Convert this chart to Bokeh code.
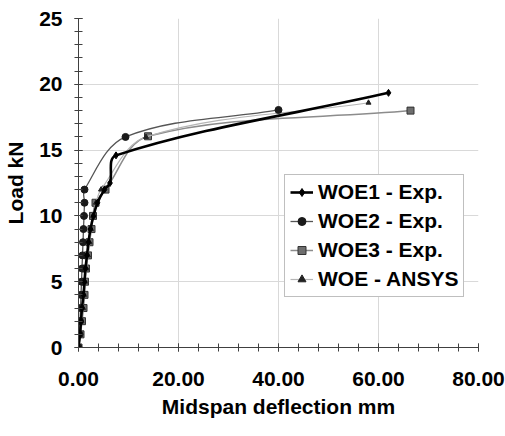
import numpy as np
from bokeh.plotting import figure
from bokeh.models import Range1d, FixedTicker, Legend, LegendItem, ColumnDataSource
from bokeh.embed import file_html
from bokeh.resources import INLINE

# Data (deflection mm, load kN)
woe1_x = [0, 0.3, 0.5, 0.7, 1.0, 1.2, 1.4, 1.7, 2.0, 2.4, 3.0, 3.8, 5.2, 6.3, 7.5, 62.0]
woe1_y = [0, 1, 2, 3, 4, 5, 6, 7, 8, 9, 10, 11, 12, 12.5, 14.6, 19.35]

woe2_x = [0, 0.2, 0.3, 0.4, 0.5, 0.6, 0.7, 0.8, 0.9, 1.0, 1.1, 1.2, 1.2, 9.4, 40.0]
woe2_y = [0, 1, 2, 3, 4, 5, 6, 7, 8, 9, 10, 11, 12, 16.0, 18.05]

woe3_x = [0, 0.4, 0.7, 1.0, 1.2, 1.3, 1.5, 1.9, 2.2, 2.6, 2.9, 3.4, 5.4, 13.9, 66.4]
woe3_y = [0, 1, 2, 3, 4, 5, 6, 7, 8, 9, 10, 11, 12, 16.05, 18.0]

ansys_x = [0, 0.3, 0.6, 0.9, 1.1, 1.3, 1.6, 1.9, 2.2, 2.5, 2.9, 3.5, 4.5, 13.5, 58.0]
ansys_y = [0, 1, 2, 3, 4, 5, 6, 7, 8, 9, 10, 11, 12, 16.0, 18.6]

x_ticks = [0, 20, 40, 60, 80]
y_ticks = [0, 5, 10, 15, 20, 25]
x_labels = {0: "0.00", 20: "20.00", 40: "40.00", 60: "60.00", 80: "80.00"}

FONT = "Liberation Sans"
FS = "21px"

# screen pixels per data unit (frame 400 px for 80 mm, 328 px for 25 kN),
# used only to shape the smoothed line like a spreadsheet "smoothed line"
SX, SY = 400 / 80, 328 / 25


def smooth_segments(xs, ys, t=0.33):
    x = np.asarray(xs, float) * SX
    y = np.asarray(ys, float) * SY
    n = len(x)
    dx = np.empty(n)
    dy = np.empty(n)
    for i in range(n):
        a = max(i - 1, 0)
        b = min(i + 1, n - 1)
        vx, vy = x[b] - x[a], y[b] - y[a]
        L = np.hypot(vx, vy) or 1.0
        dx[i], dy[i] = vx / L, vy / L
    seg = np.hypot(np.diff(x), np.diff(y))
    cx0 = x[:-1] + dx[:-1] * seg * t
    cy0 = y[:-1] + dy[:-1] * seg * t
    cx1 = x[1:] - dx[1:] * seg * t
    cy1 = y[1:] - dy[1:] * seg * t
    return ColumnDataSource(dict(x0=x[:-1] / SX, y0=y[:-1] / SY, x1=x[1:] / SX, y1=y[1:] / SY,
                                 cx0=cx0 / SX, cy0=cy0 / SY, cx1=cx1 / SX, cy1=cy1 / SY))


p = figure(width=505, height=436, output_backend="svg", toolbar_location=None,
           x_range=Range1d(0, 80), y_range=Range1d(0, 25),
           min_border_left=78, min_border_right=27, min_border_top=18, min_border_bottom=89)
p.outline_line_color = None
p.background_fill_color = "white"
p.border_fill_color = "white"

# grids
p.xgrid.ticker = FixedTicker(ticks=x_ticks)
p.ygrid.ticker = FixedTicker(ticks=y_ticks)
p.xgrid.grid_line_color = "#d9d9d9"
p.ygrid.grid_line_color = "#d9d9d9"

# axes
p.xaxis.ticker = FixedTicker(ticks=x_ticks, minor_ticks=[i * 4 for i in range(21)])
p.yaxis.ticker = FixedTicker(ticks=y_ticks, minor_ticks=list(range(26)))
p.xaxis.major_label_overrides = {k: v for k, v in x_labels.items()}
for ax in (p.xaxis[0], p.yaxis[0]):
    ax.axis_line_color = "#404040"
    ax.major_tick_line_color = "#404040"
    ax.minor_tick_line_color = "#404040"
    ax.major_tick_in = 4
    ax.major_tick_out = 4
    ax.minor_tick_in = 4
    ax.minor_tick_out = 4
    ax.major_label_text_font = FONT
    ax.major_label_text_font_style = "bold"
    ax.major_label_text_font_size = FS
    ax.major_label_text_color = "black"
    ax.axis_label_text_font = FONT
    ax.axis_label_text_font_style = "bold"
    ax.axis_label_text_font_size = FS
    ax.axis_label_text_color = "black"
p.xaxis.axis_label = "Midspan deflection mm"
p.yaxis.axis_label = "Load kN"
p.xaxis.major_label_standoff = 20
p.xaxis.axis_label_standoff = 6
p.yaxis.major_label_standoff = 12
p.yaxis.axis_label_standoff = 9

s1 = ColumnDataSource(dict(x=woe1_x, y=woe1_y))
s2 = ColumnDataSource(dict(x=woe2_x, y=woe2_y))
s3 = ColumnDataSource(dict(x=woe3_x, y=woe3_y))
s4 = ColumnDataSource(dict(x=ansys_x, y=ansys_y))

bz = dict(x0="x0", y0="y0", x1="x1", y1="y1", cx0="cx0", cy0="cy0", cx1="cx1", cy1="cy1")

# WOE3
l3 = p.bezier(source=smooth_segments(woe3_x, woe3_y), line_color="#8c8c8c", line_width=1.5, **bz)
m3 = p.scatter("x", "y", source=s3, marker="square", size=7, fill_color="#6e6e6e", line_color="#333333")
# WOE - ANSYS
l4 = p.bezier(source=smooth_segments(ansys_x, ansys_y), line_color="#b5b5b5", line_width=1.2, **bz)
m4 = p.scatter("x", "y", source=s4, marker="triangle", size=5, fill_color="#222222", line_color="#222222")
# WOE2
l2 = p.bezier(source=smooth_segments(woe2_x, woe2_y), line_color="#555555", line_width=1.3, **bz)
m2 = p.scatter("x", "y", source=s2, marker="circle", size=7, fill_color="#1a1a1a", line_color="#1a1a1a")
# WOE1
l1 = p.bezier(source=smooth_segments(woe1_x, woe1_y), line_color="black", line_width=2.6, **bz)
m1 = p.scatter("x", "y", source=s1, marker="diamond", size=7, fill_color="black", line_color="black")

legend = Legend(items=[
    LegendItem(label="WOE1 - Exp.", renderers=[l1, m1]),
    LegendItem(label="WOE2 - Exp.", renderers=[l2, m2]),
    LegendItem(label="WOE3 - Exp.", renderers=[l3, m3]),
    LegendItem(label="WOE - ANSYS", renderers=[l4, m4]),
], location=(206, 50))
legend.label_text_font = FONT
legend.label_text_font_style = "bold"
legend.label_text_font_size = FS
legend.label_text_color = "black"
legend.border_line_color = "#7f7f7f"
legend.border_line_width = 1
legend.background_fill_alpha = 1
legend.padding = 5
legend.spacing = 5
legend.glyph_width = 23
legend.label_standoff = 5
legend.margin = 0
p.add_layout(legend)

open("out.html", "w").write(file_html(p, INLINE))
